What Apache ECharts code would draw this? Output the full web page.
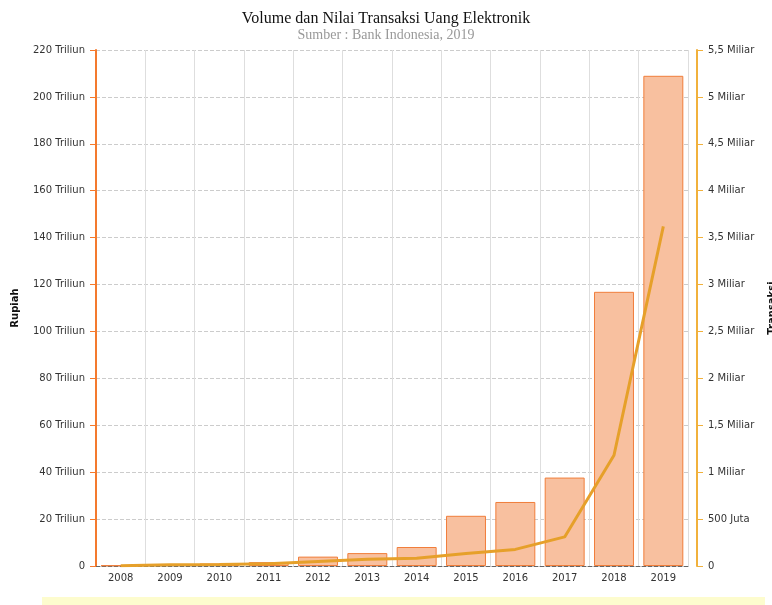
<!DOCTYPE html>
<html>
<head>
<meta charset="utf-8">
<script src="https://cdn.jsdelivr.net/npm/echarts@6/dist/echarts.min.js"></script>
<style>
  html, body { margin: 0; padding: 0; background: #fff; }
  #chart { width: 772px; height: 605px; }
</style>
</head>
<body>
<div id="chart"></div>
<script>
// data
const years = ['2008', '2009', '2010', '2011', '2012', '2013', '2014', '2015', '2016', '2017', '2018', '2019'];
// bars, plotted on the left axis (Triliun)
const barValues = [0.3, 0.7, 1.06, 1.64, 4.0, 5.5, 8.1, 21.4, 27.3, 37.7, 116.9, 209];
// line, plotted on the right axis (Miliar)
const lineValues = [0.003, 0.013, 0.017, 0.025, 0.049, 0.073, 0.083, 0.132, 0.177, 0.31, 1.18, 3.62];

const chart = echarts.init(document.getElementById('chart'));

const labelFont = { fontFamily: 'DejaVu Sans', fontSize: 10, color: '#333' };

const option = {
  animation: false,
  title: {
    text: 'Volume dan Nilai Transaksi Uang Elektronik',
    subtext: 'Sumber : Bank Indonesia, 2019',
    left: 'center',
    top: 6,
    itemGap: 1,
    textStyle: { fontFamily: 'Liberation Serif', fontSize: 16, fontWeight: 'normal', color: '#111' },
    subtextStyle: { fontFamily: 'Liberation Serif', fontSize: 14, color: '#999' }
  },
  grid: { left: 96, right: 84, top: 50, bottom: 39, containLabel: false, outerBoundsMode: 'none' },
  xAxis: {
    type: 'category',
    data: years,
    axisLine: { show: true, lineStyle: { color: '#666', type: 'dashed', width: 1 } },
    axisTick: { show: false },
    axisLabel: { ...labelFont, margin: 7 },
    splitLine: { show: true, lineStyle: { color: '#dedede', width: 1 } }
  },
  yAxis: [
    {
      type: 'value',
      min: 0,
      max: 220,
      interval: 20,
      name: 'Rupiah',
      nameLocation: 'middle',
      nameRotate: 90,
      nameGap: 76,
      nameTextStyle: { fontFamily: 'DejaVu Sans', fontSize: 10, fontWeight: 'bold', color: '#111' },
      axisLine: { show: true, lineStyle: { color: '#f47a2e', width: 2 } },
      axisTick: { show: true, length: 6, lineStyle: { color: '#f47a2e', width: 1 } },
      axisLabel: {
        ...labelFont,
        margin: 11,
        formatter: v => v === 0 ? '0' : v + ' Triliun'
      },
      splitLine: { show: true, lineStyle: { color: '#cccccc', type: 'dashed', width: 1 } }
    },
    {
      type: 'value',
      min: 0,
      max: 5.5,
      interval: 0.5,
      offset: 9,
      position: 'right',
      name: 'Transaksi',
      nameLocation: 'middle',
      nameRotate: 90,
      nameGap: 70,
      nameTextStyle: { fontFamily: 'DejaVu Sans', fontSize: 10, fontWeight: 'bold', color: '#111' },
      axisLine: { show: true, lineStyle: { color: '#f1b13c', width: 2 } },
      axisTick: { show: true, length: 6, lineStyle: { color: '#f1b13c', width: 1 } },
      axisLabel: {
        ...labelFont,
        margin: 11,
        formatter: v => {
          if (v === 0) return '0';
          if (v < 1) return Math.round(v * 1000) + ' Juta';
          return String(v).replace('.', ',') + ' Miliar';
        }
      },
      splitLine: { show: false }
    }
  ],
  series: [
    {
      name: 'Volume',
      type: 'bar',
      yAxisIndex: 0,
      data: barValues,
      barCategoryGap: '19%',
      itemStyle: { color: '#f8c09f', borderColor: '#f17e3b', borderWidth: 1 }
    },
    {
      name: 'Nilai',
      type: 'line',
      yAxisIndex: 1,
      data: lineValues,
      symbol: 'none',
      z: 5,
      lineStyle: { color: '#e6a02a', width: 3 }
    }
  ],
  graphic: [
    {
      type: 'rect',
      left: 42,
      top: 597,
      shape: { width: 723, height: 8 },
      style: { fill: '#fdfcce' },
      silent: true
    }
  ]
};

chart.setOption(option);
</script>
</body>
</html>
